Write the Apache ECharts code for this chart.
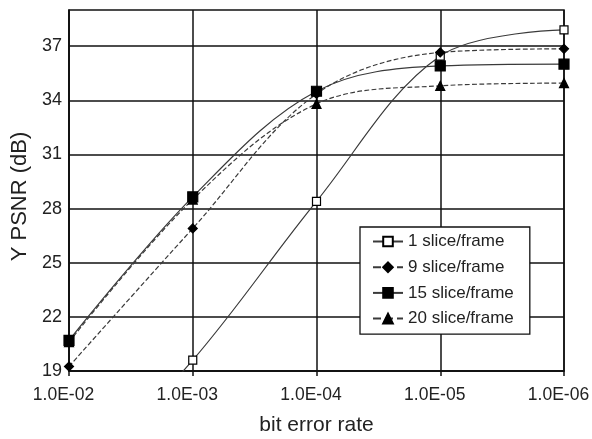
<!DOCTYPE html>
<html>
<head>
<meta charset="utf-8">
<script src="https://cdn.jsdelivr.net/npm/echarts@6/dist/echarts.min.js"></script>
<style>html,body{margin:0;padding:0;background:#fff}#c{width:592px;height:439px}</style>
</head>
<body>
<div id="c"></div>
<script>
const categories = ['1.0E-02', '1.0E-03', '1.0E-04', '1.0E-05', '1.0E-06'];
const yTicks = [19, 22, 25, 28, 31, 34, 37];
const slice1 = [12.5, 19.6, 28.4, 36.45, 37.9];
const slice9 = [19.25, 26.9, 34.35, 36.65, 36.85];
const slice15 = [20.7, 28.65, 34.5, 35.9, 36.0];
const slice20 = [20.6, 28.5, 33.8, 34.8, 34.95];

const chart = echarts.init(document.getElementById('c'));
const font = 'Liberation Sans, Arial, sans-serif';
const lineCol = '#3a3a3a';
function mk(name, data, symbol, fill, type, size) {
  return {
    name, type: 'line', data, smooth: 0.35, symbol, symbolSize: size,
    clip: true,
    lineStyle: { color: lineCol, width: 1.2, type: type },
    itemStyle: { color: fill, borderColor: '#000', borderWidth: 1.2 },
    emphasis: { disabled: true }
  };
}
chart.setOption({
  animation: false,
  backgroundColor: '#fff',
  grid: { left: 69, right: 28, top: 10, bottom: 68, containLabel: false, outerBoundsMode: 'none', show: true, borderColor: '#111', borderWidth: 1.5, backgroundColor: 'transparent' },
  legend: {
    orient: 'vertical', left: 360, top: 227,
    padding: [6, 16, 7, 12], itemGap: 8.7, itemWidth: 30, itemHeight: 12,
    backgroundColor: '#fff', borderColor: '#111', borderWidth: 1.3,
    textStyle: { fontFamily: font, fontSize: 17, color: '#222' },
    data: ['1 slice/frame', '9 slice/frame', '15 slice/frame', '20 slice/frame']
  },
  xAxis: {
    type: 'category', data: categories, boundaryGap: false,
    name: 'bit error rate', nameLocation: 'middle', nameGap: 44,
    nameTextStyle: { fontFamily: font, fontSize: 21, color: '#222' },
    axisLine: { lineStyle: { color: '#111', width: 1.5 } },
    axisTick: { show: true, length: 5, lineStyle: { color: '#111', width: 1.5 } },
    axisLabel: { fontFamily: font, fontSize: 17.5, color: '#222', margin: 15, padding: [0, 11, 0, 0] },
    splitLine: { show: true, lineStyle: { color: '#111', width: 1.5 } }
  },
  yAxis: {
    type: 'value', min: 19, max: 39,
    name: 'Y PSNR (dB)', nameLocation: 'middle', nameGap: 37,
    nameTextStyle: { fontFamily: font, fontSize: 22, color: '#222', padding: [0, 12, 0, 0] },
    axisLine: { show: true, lineStyle: { color: '#111', width: 1.5 } },
    axisTick: { show: false, customValues: yTicks },
    axisLabel: { fontFamily: font, fontSize: 18, color: '#222', margin: 7, customValues: yTicks },
    splitLine: { show: true, customValues: yTicks, lineStyle: { color: '#111', width: 1.5 } }
  },
  series: [
    mk('1 slice/frame', slice1, 'rect', '#fff', 'solid', 8),
    mk('9 slice/frame', slice9, 'diamond', '#000', 'dashed', 9),
    mk('15 slice/frame', slice15, 'rect', '#000', 'solid', 10),
    mk('20 slice/frame', slice20, 'triangle', '#000', 'dashed', 9)
  ]
});
</script>
</body>
</html>
